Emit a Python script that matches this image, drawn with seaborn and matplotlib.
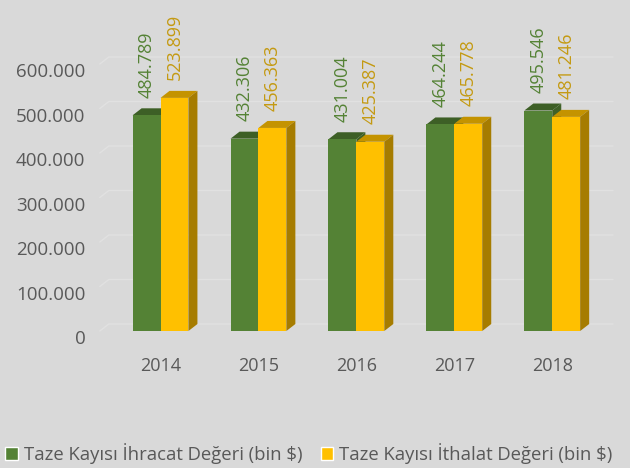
import numpy as np
import pandas as pd
import seaborn as sns
import matplotlib
matplotlib.use('Agg')
import matplotlib.pyplot as plt
from matplotlib.patches import Polygon, Patch
from matplotlib.transforms import ScaledTranslation

years = ['2014', '2015', '2016', '2017', '2018']
ihracat = [484789, 432306, 431004, 464244, 495546]
ithalat = [523899, 456363, 425387, 465778, 481246]
series = ['Taze Kayısı İhracat Değeri (bin $)', 'Taze Kayısı İthalat Değeri (bin $)']
yticks = [0, 100000, 200000, 300000, 400000, 500000, 600000]

bg = '#d9d9d9'
front = ['#548235', '#ffc000']
top_c = ['#3d5f26', '#c49300']
side_c = ['#3f6128', '#a67c00']
lab_c = ['#548235', '#c49a12']
txt = '#595959'

df = pd.DataFrame({
    'year': years * 2,
    'value': ihracat + ithalat,
    'series': [series[0]] * 5 + [series[1]] * 5,
})

sns.set_style('white')
plt.rcParams['font.family'] = ['Open Sans', 'DejaVu Sans']

fig = plt.figure(figsize=(6.3, 4.68), dpi=100, facecolor=bg)
ax = fig.add_axes([0.1444, 0.2927, 0.841, 0.6846])
ax.set_facecolor(bg)

sns.barplot(data=df, x='year', y='value', hue='series', palette=front,
            saturation=1, width=0.57, gap=0, ax=ax, legend=False, zorder=3,
            edgecolor='none', linewidth=0)

ax.set_xlim(-0.71, 4.7)
ax.set_ylim(0, 720000)

# 3D depth offsets (data units)
ddx = 0.092
ddy = 15700

# back-wall grid
for t in yticks:
    ax.plot([-0.62, -0.62 + ddx, 4.62], [t, t + ddy, t + ddy],
            color='#e1e1e1', lw=1, zorder=1, clip_on=False)

for i, cont in enumerate(ax.containers):
    for j, bar in enumerate(cont.patches):
        x0 = bar.get_x()
        w = bar.get_width()
        h = bar.get_height()
        z = 3 + 2 * i
        bar.set_zorder(z + 0.5)
        topp = Polygon([(x0, h), (x0 + w, h), (x0 + w + ddx, h + ddy), (x0 + ddx, h + ddy)],
                       closed=True, facecolor=top_c[i], edgecolor='none', zorder=z)
        sidep = Polygon([(x0 + w, 0), (x0 + w + ddx, ddy), (x0 + w + ddx, h + ddy), (x0 + w, h)],
                        closed=True, facecolor=side_c[i], edgecolor='none', zorder=z)
        ax.add_patch(topp)
        ax.add_patch(sidep)
        ax.annotate(f'{h:,.0f}'.replace(',', '.'), (x0 + w / 2, h + ddy),
                    xytext=(0, 7.5), textcoords='offset points', rotation=90,
                    ha='center', va='bottom', fontsize=13, color=lab_c[i], zorder=10)

ax.set_yticks(yticks)
ax.set_yticklabels([f'{t:,.0f}'.replace(',', '.') for t in yticks])
ax.set_xlabel('')
ax.set_ylabel('')
ax.tick_params(axis='y', length=0, pad=4, labelsize=13.5, labelcolor=txt)
ax.tick_params(axis='x', length=0, pad=19, labelsize=13, labelcolor=txt)
for lab in ax.get_yticklabels():
    lab.set_transform(lab.get_transform() + ScaledTranslation(0, -6 / 100, fig.dpi_scale_trans))
for s in ax.spines.values():
    s.set_visible(False)

handles = [Patch(facecolor=front[0]), Patch(facecolor=front[1])]
leg = fig.legend(handles, series, loc='center', bbox_to_anchor=(0.49, 0.032), ncol=2,
                 frameon=False, fontsize=13.3, handlelength=0.7, handleheight=0.7,
                 handletextpad=0.3, columnspacing=1.0, labelcolor=txt)

fig.savefig('out.png', dpi=100, facecolor=bg)
